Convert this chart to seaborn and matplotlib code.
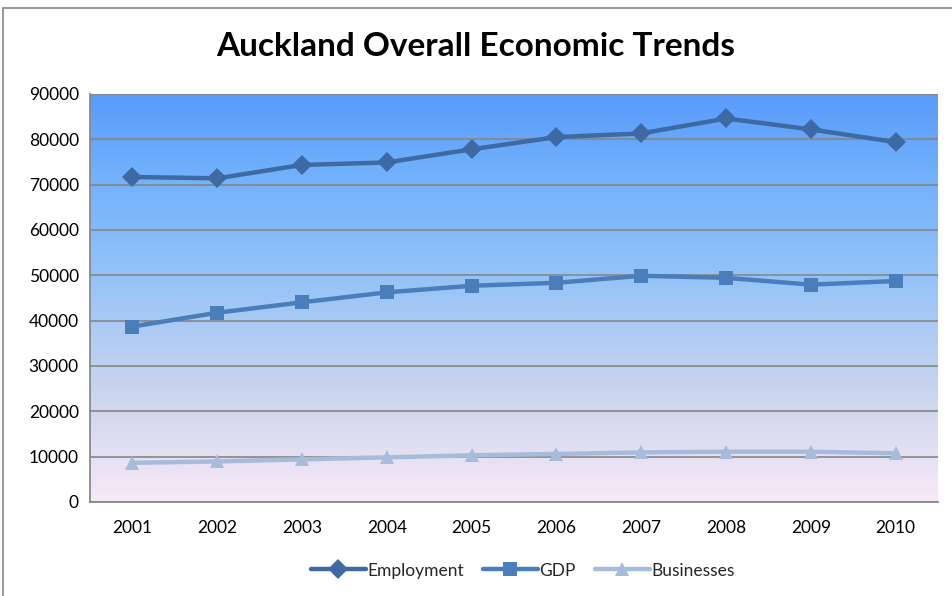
import numpy as np
import pandas as pd
import matplotlib
matplotlib.use("Agg")
import matplotlib.pyplot as plt
import seaborn as sns
from matplotlib.colors import LinearSegmentedColormap
from matplotlib.patches import Rectangle

years = ["2001", "2002", "2003", "2004", "2005", "2006", "2007", "2008", "2009", "2010"]
employment = [71700, 71400, 74350, 74900, 77800, 80500, 81300, 84600, 82200, 79400]
gdp = [38700, 41750, 44050, 46250, 47700, 48350, 49900, 49450, 47950, 48750]
businesses = [8650, 8950, 9400, 9850, 10300, 10600, 10950, 11100, 11100, 10750]
series_names = ["Employment", "GDP", "Businesses"]
colors = ["#3d6aa3", "#4a7ebb", "#a7bbda"]
markers = ["D", "s", "^"]

df = pd.DataFrame({
    "Year": years * 3,
    "Value": employment + gdp + businesses,
    "Series": [n for n in series_names for _ in years],
})
df["x"] = df["Year"].map({y: i for i, y in enumerate(years)})

sns.set_theme(style="white")
plt.rcParams["font.family"] = ["Lato", "DejaVu Sans"]

fig = plt.figure(figsize=(9.52, 5.96), dpi=100)
ax = fig.add_axes([90 / 952, 1 - 502 / 596, 848 / 952, 408 / 596])

# gradient background
cmap = LinearSegmentedColormap.from_list(
    "bg", [(0.0, "#f8e9f7"), (0.25, "#cdd6ee"), (0.55, "#95c3f8"), (0.8, "#72b1fc"), (1.0, "#5a9bfb")])
grad = np.linspace(0, 1, 256).reshape(-1, 1)
ax.imshow(grad, aspect="auto", cmap=cmap, origin="lower",
          extent=[-0.5, 9.5, 0, 90000], zorder=0)

sns.lineplot(data=df, x="x", y="Value", hue="Series", style="Series",
             palette=colors, markers=markers, dashes=False, linewidth=3.2,
             markersize=10, markeredgewidth=0, ax=ax, zorder=3, legend=True)

ax.set_xlim(-0.5, 9.5)
ax.set_ylim(0, 90000)
ax.set_yticks(np.arange(0, 90001, 10000))
ax.set_yticklabels([str(v) for v in range(0, 90001, 10000)], fontsize=12.5, color="black")
ax.set_xticks(range(len(years)))
ax.set_xticklabels(years, fontsize=12.5, color="black")
ax.set_xlabel("")
ax.set_ylabel("")
ax.grid(axis="y", color="#868686", linewidth=1.2, zorder=1)
ax.set_axisbelow(False)
for gl in ax.get_ygridlines():
    gl.set_zorder(1)
for s in ["top", "right"]:
    ax.spines[s].set_visible(False)
ax.spines["left"].set_color("#868686")
ax.spines["bottom"].set_color("#868686")
ax.tick_params(axis="y", length=0, pad=8)
ax.tick_params(axis="x", length=0, pad=13)

handles, labels = ax.get_legend_handles_labels()
for h in handles:
    h.set_markersize(10)
    h.set_linewidth(3.2)
ax.legend(handles, labels, loc="center", bbox_to_anchor=(0.51, -0.168), ncol=3,
          frameon=False, fontsize=12.5, handlelength=3.2, handletextpad=0.05, columnspacing=1.1)

fig.text(0.5, 1 - 47 / 596, "Auckland Overall Economic Trends", ha="center", va="center",
         fontsize=24, fontweight="bold", color="black")

# chart border
fig.patches.append(Rectangle((3 / 952, -0.01), 1.0, 1 - 8 / 596 + 0.01, transform=fig.transFigure,
                             fill=False, edgecolor="#868686", linewidth=1.2))

fig.savefig("out.png", dpi=100, facecolor="white")
